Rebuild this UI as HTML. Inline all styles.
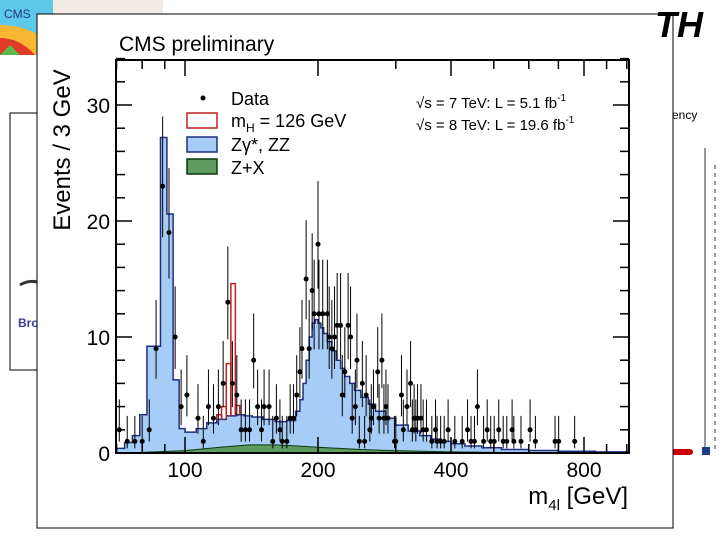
<!DOCTYPE html>
<html><head><meta charset="utf-8"><style>
body{margin:0;width:720px;height:540px;overflow:hidden;background:#fff;font-family:"Liberation Sans",sans-serif;position:relative}
</style></head><body>
<svg width="720" height="540" style="position:absolute;left:0;top:0">
  <rect x="0" y="0" width="163" height="14" fill="#f3ece6"/>
  <g>
    <rect x="0" y="0" width="53" height="55" fill="#5ec8e8"/>
    <path d="M0 55 L0 25 Q30 25 53 45 L53 55 Z" fill="#f7b733"/>
    <path d="M0 55 L0 38 Q20 38 35 55 Z" fill="#e23b2a"/>
    <path d="M0 55 L10 45 L20 55 Z" fill="#5bb84a"/>
    <text x="4" y="18" font-size="12" fill="#1f3c8a">CMS</text>
  </g>
  <rect x="10" y="113" width="40" height="257" fill="#fff" stroke="#000" stroke-width="1"/>
  <path d="M20 285 Q28 280 37 282" stroke="#333" stroke-width="3" fill="none"/>
  <text x="18" y="327" font-size="12" font-weight="bold" fill="#3b3b9b">Bro</text>
  <text x="672" y="119" font-size="12" fill="#000">ency</text>
  <line x1="705" y1="148" x2="705" y2="450" stroke="#334" stroke-width="1"/>
  <line x1="715" y1="165" x2="715" y2="450" stroke="#334" stroke-width="1" stroke-dasharray="4,4"/>
  <path d="M673 452 L690 452" stroke="#c00" stroke-width="6" stroke-linecap="round"/>
  <rect x="702" y="447" width="8" height="8" fill="#1a3a8a"/>
</svg>
<svg id="chart" width="720" height="540" style="position:absolute;left:0;top:0">
  <rect x="37" y="14" width="636" height="514" fill="#fff" stroke="#000" stroke-width="1"/>
  <text x="655" y="37" font-size="36" font-weight="bold" font-style="italic" fill="#000">TH</text>
  <text x="119" y="51" font-size="21" fill="#000">CMS preliminary</text>
  <text transform="translate(70,150) rotate(-90)" text-anchor="middle" font-size="24" fill="#000">Events / 3 GeV</text>
  <text x="628" y="504" text-anchor="end" font-size="24" fill="#000">m<tspan font-size="15" dy="6">4l</tspan><tspan dy="-6"> [GeV]</tspan></text>
  <g id="marks"></g>
  <g id="axes"></g>
  <g>
    <circle cx="203" cy="98" r="2.5" fill="#000"/>
    <text x="231" y="105" font-size="18">Data</text>
    <rect x="187" y="113" width="30" height="15" fill="#fff" stroke="#b22" stroke-width="1.5"/>
    <text x="231" y="127" font-size="18">m<tspan font-size="12" dy="5">H</tspan><tspan dy="-5"> = 126 GeV</tspan></text>
    <rect x="187" y="137" width="30" height="15" fill="#a5cdf7" stroke="#1e2f80" stroke-width="1.5"/>
    <text x="231" y="151" font-size="18">Zγ*, ZZ</text>
    <rect x="187" y="159" width="30" height="15" fill="#5f9a5f" stroke="#0b3a0b" stroke-width="1.5"/>
    <text x="231" y="174" font-size="18">Z+X</text>
    <text x="416" y="108" font-size="15">√s = 7 TeV: L =  5.1 fb<tspan font-size="10" dy="-7">-1</tspan></text>
    <text x="416" y="130" font-size="15">√s = 8 TeV: L = 19.6 fb<tspan font-size="10" dy="-7">-1</tspan></text>
  </g>
</svg>
<script>
const bgEdges=[70,73,76,79,82,85,88,91,94,97,100,106,112,118,124,130,136,142,150,160,170,178,182,185,188,191,194,197,200,203,206,210,215,220,225,230,236,242,250,260,270,285,300,320,340,360,380,400,430,470,520,600,700,850,1010];
const bgValues=[0.4,0.9,1.5,3.3,9.2,9.2,27.2,20.6,6.3,2.1,1.8,2.1,2.6,2.9,3.2,3.3,3.2,3.1,2.9,2.7,2.8,3.6,4.6,6.0,8.0,10.0,11.2,11.5,11.2,10.8,10.3,9.6,8.8,8.0,7.3,6.6,6.0,5.4,4.8,4.2,3.6,3.0,2.4,1.9,1.5,1.2,1.0,0.8,0.6,0.45,0.3,0.22,0.15,0.1];
const sigEdges=[118,121,124,127,130,133];
const sigValues=[0.4,1.1,4.5,11.4,0.8];
const zxMass=[70,80,100,120,140,160,180,200,250,300,400,500,700,1010];
const zxValues=[0.02,0.05,0.2,0.5,0.7,0.7,0.6,0.5,0.3,0.2,0.1,0.05,0.02,0.01];
const dataMass=[71,74,77,80,83,86,89,92,95,98,101,107,110,113,116,119,122,125,128,131,134,137,140,143,146,149,151,155,158,161,164,166,170,173,176,179,182,184,188,191,194,196,200,201,205,210,212,215,218,221,225,227,230,234,237,239,243,245,248,252,255,257,262,264,267,273,275,279,282,285,288,298,300,309,312,318,324,327,330,333,336,342,346,352,362,369,372,379,386,394,408,424,436,444,452,459,474,483,492,501,513,525,535,550,555,576,604,621,688,701,762];
const dataCounts=[2,1,1,1,2,9,23,19,10,4,5,3,1,4,3,4,6,13,6,5,2,2,2,8,4,2,4,4,1,3,2,1,1,3,3,5,7,9,15,9,14,12,18,12,12,12,10,9,10,11,11,5,7,11,10,3,4,8,1,6,1,5,2,3,4,7,3,8,3,4,3,1,1,5,2,4,6,2,3,2,3,3,2,2,1,2,1,1,1,2,1,1,2,1,1,4,1,2,1,1,2,1,1,2,1,1,2,1,1,1,1];
const yTickValues=[0,10,20,30];
const xTickValues=[100,200,400,800];
const xMinorValues=[60,70,80,90,300,500,600,700,900,1000];

const X0=116,X1=629,Y0=453,Y1=60;
function xs(m){return 185+133*Math.log2(m/100);}
function ys(v){return 453-11.6*v;}
const NS='http://www.w3.org/2000/svg';
function mk(tag,attrs,parent){const e=document.createElementNS(NS,tag);for(const k in attrs)e.setAttribute(k,attrs[k]);parent.appendChild(e);return e;}
const marks=document.getElementById('marks');
const axes=document.getElementById('axes');
function cx(v){return Math.max(X0,Math.min(X1,v));}

let d='M'+cx(xs(bgEdges[0]))+' '+Y0;
for(let i=0;i<bgValues.length;i++){d+=' L'+cx(xs(bgEdges[i]))+' '+ys(bgValues[i])+' L'+cx(xs(bgEdges[i+1]))+' '+ys(bgValues[i]);}
d+=' L'+cx(xs(bgEdges[bgEdges.length-1]))+' '+Y0+' Z';
const bgPath=mk('path',{d:d,fill:'#a5cdf7',stroke:'#1e2f80','stroke-width':1.5},marks);



function bgAt(m){for(let i=0;i<bgValues.length;i++){if(m>=bgEdges[i]&&m<bgEdges[i+1])return bgValues[i];}return 0;}
for(let i=0;i<sigValues.length;i++){
  const mc=(sigEdges[i]+sigEdges[i+1])/2;
  const top=bgAt(mc)+sigValues[i];
  const bar=mk('path',{d:'M'+xs(sigEdges[i])+' '+ys(bgAt(mc))+' L'+xs(sigEdges[i])+' '+ys(top)+' L'+xs(sigEdges[i+1])+' '+ys(top)+' L'+xs(sigEdges[i+1])+' '+ys(bgAt(mc)),fill:'none',stroke:'#b22','stroke-width':1.5},marks);
  
  
}

let zd='M'+cx(xs(zxMass[0]))+' '+Y0;
for(let i=0;i<zxMass.length;i++){zd+=' L'+cx(xs(zxMass[i]))+' '+ys(zxValues[i]);}
zd+=' L'+cx(xs(zxMass[zxMass.length-1]))+' '+Y0+' Z';
const zx=mk('path',{d:zd,fill:'#5f9a5f',stroke:'#0b3a0b','stroke-width':1},marks);



for(let i=0;i<dataMass.length;i++){
  const n=dataCounts[i];
  const x=xs(dataMass[i]),y=ys(n);
  const up=Math.sqrt(n)+1.2,dn=Math.max(0,Math.sqrt(n)-0.4);
  const eb=mk('line',{x1:x,x2:x,y1:ys(n+up),y2:ys(n-dn),stroke:'#000','stroke-width':1},marks);
  
  
  const p=mk('circle',{cx:x,cy:y,r:2.5,fill:'#000'},marks);
  
  
}

const fr=mk('rect',{x:X0,y:Y1,width:X1-X0,height:Y0-Y1,fill:'none',stroke:'#000','stroke-width':2},axes);


for(let v=0;v<=34;v+=2){
  const big=v%10===0, L=big?16:9;
  mk('line',{x1:X0,x2:X0+L,y1:ys(v),y2:ys(v),stroke:'#000','stroke-width':1.5},axes);
  mk('line',{x1:X1,x2:X1-L,y1:ys(v),y2:ys(v),stroke:'#000','stroke-width':1.5},axes);
}
yTickValues.forEach(v=>{
  const t=mk('text',{x:X0-6,y:ys(v)+8,'text-anchor':'end','font-size':21},axes);
  t.textContent=v;
  
  
});
xTickValues.forEach(v=>{
  const x=xs(v);
  mk('line',{x1:x,x2:x,y1:Y0,y2:Y0-16,stroke:'#000','stroke-width':1.5},axes);
  mk('line',{x1:x,x2:x,y1:Y1,y2:Y1+16,stroke:'#000','stroke-width':1.5},axes);
  const t=mk('text',{x:x,y:Y0+24,'text-anchor':'middle','font-size':21},axes);
  t.textContent=v;
  
  
});
xMinorValues.forEach(v=>{
  const x=xs(v); if(x<X0||x>X1)return;
  mk('line',{x1:x,x2:x,y1:Y0,y2:Y0-9,stroke:'#000','stroke-width':1.5},axes);
  mk('line',{x1:x,x2:x,y1:Y1,y2:Y1+9,stroke:'#000','stroke-width':1.5},axes);
});
</script>
</body></html>
